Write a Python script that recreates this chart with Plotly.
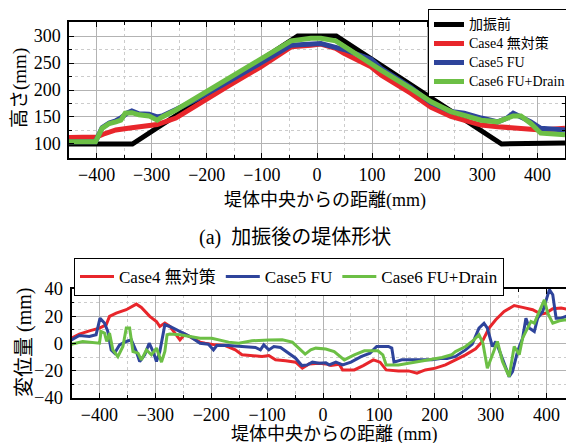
import plotly.graph_objects as go

SERIF = "Liberation Serif, Noto Sans CJK JP, serif"

# ---- top chart: embankment shape (mm) ----
before_x = [-450, -335, -35, 35, 335, 450]
before_y = [100, 100, 300, 300, 100, 102]

case4_x = [-450, -400, -388, -377, -365, -336, -323, -290, -256, -214, -160, -102, -47, -11, 7, 34, 49, 98, 116, 170, 207, 243, 267, 298, 328, 356, 388, 406, 450]
case4_y = [112, 113, 118, 122, 126, 130, 132, 136, 148, 175, 208, 243, 280, 283, 285, 277, 268, 243, 228, 194, 168, 151, 144, 135, 132, 130, 127, 126, 129]

case5_x = [-450, -402, -390, -377, -365, -356, -345, -336, -323, -305, -290, -281, -256, -214, -160, -102, -47, 7, 34, 49, 98, 116, 170, 207, 243, 267, 298, 328, 345, 356, 370, 388, 406, 450]
case5_y = [104, 104, 130, 139, 143, 148, 157, 161, 156, 155, 150, 152, 164, 185, 216, 250, 283, 286, 280, 275, 257, 240, 205, 176, 160, 157, 148, 141, 148, 157, 150, 141, 129, 126]

case6_x = [-450, -402, -390, -377, -365, -356, -348, -336, -323, -305, -290, -281, -256, -214, -160, -102, -47, -11, 7, 34, 49, 98, 116, 170, 207, 243, 267, 298, 328, 345, 356, 370, 388, 406, 450]
case6_y = [104, 104, 129, 138, 141, 144, 157, 158, 154, 152, 144, 150, 163, 189, 222, 257, 291, 296, 296, 291, 281, 249, 237, 203, 178, 160, 152, 144, 141, 147, 152, 152, 138, 120, 117]

# ---- bottom chart: displacement (mm) ----
d4_x = [-450, -436, -418, -400, -388, -382, -370, -352, -334, -325, -310, -298, -292, -283, -274, -262, -256, -247, -232, -220, -211, -193, -175, -157, -145, -127, -109, -97, -85, -67, -49, -37, -25, -7, 5, 14, 29, 35, 56, 72, 90, 102, 113, 135, 153, 168, 183, 201, 219, 237, 255, 273, 285, 297, 309, 324, 342, 357, 375, 390, 399, 411, 426, 442, 450]
d4_y = [3.9, 6.9, 9.3, 11.3, 13.7, 19.9, 22.3, 24.8, 28.9, 26.5, 19.9, 16.2, 12.5, 15.0, 12.5, 6.4, 2.7, 6.9, 3.4, 1.0, 0.2, -1.0, -1.5, -4.7, -8.3, -8.8, -9.6, -8.8, -12.0, -12.7, -13.7, -18.1, -15.0, -14.5, -15.0, -16.2, -15.2, -19.4, -19.4, -16.2, -12.0, -13.7, -19.4, -20.1, -20.1, -21.8, -19.4, -18.1, -15.7, -12.0, -8.3, -3.9, 1.5, 11.3, 17.4, 23.5, 27.9, 26.5, 24.8, 21.6, 22.3, 25.5, 26.0, 24.8, 23.5]

d5_x = [-450, -436, -418, -406, -399, -391, -385, -379, -373, -364, -352, -343, -334, -328, -319, -311, -304, -298, -292, -283, -274, -256, -238, -220, -205, -196, -190, -169, -145, -121, -112, -106, -97, -88, -76, -58, -49, -38, -28, -19, -7, 5, 11, 23, 35, 50, 68, 84, 96, 117, 123, 127, 141, 159, 177, 195, 213, 222, 237, 255, 267, 279, 288, 294, 303, 309, 315, 324, 333, 339, 348, 357, 363, 369, 378, 384, 393, 405, 411, 417, 426, 442, 450]
d5_y = [2.7, 5.9, 5.1, 6.4, 18.6, 15.0, 8.8, -4.7, -7.1, -1.0, 1.5, 2.7, -5.9, -13.2, -8.3, 0.2, -5.9, -13.2, -5.9, 13.7, 12.5, 8.8, 5.1, 0.2, -0.5, -4.7, -1.5, -1.5, -2.2, -2.9, -4.7, -1.0, -4.7, -2.2, -2.9, -8.3, -10.8, -16.2, -15.7, -13.7, -14.5, -14.2, -15.7, -13.7, -15.7, -13.7, -9.6, -7.1, -2.2, -2.2, -3.4, -13.7, -12.0, -12.0, -12.0, -12.0, -10.8, -11.0, -9.5, -4.7, -0.5, 11.3, 14.9, 11.3, -2.2, 1.5, -4.7, -14.5, -24.3, -20.6, -5.9, 3.9, 18.6, 11.3, 8.8, 18.6, 23.5, 39.5, 35.8, 18.6, 18.6, 21.0, 23.0]

d6_x = [-450, -430, -400, -397, -391, -387, -382, -376, -367, -358, -352, -346, -340, -331, -325, -316, -307, -298, -289, -283, -279, -274, -256, -238, -220, -199, -169, -151, -127, -97, -73, -55, -43, -32, -22, -13, 5, 20, 38, 56, 74, 98, 107, 113, 135, 153, 171, 195, 213, 230, 237, 255, 270, 279, 286, 294, 303, 312, 321, 333, 342, 351, 357, 366, 372, 378, 387, 396, 402, 411, 423, 435, 450]
d6_y = [-0.5, 1.5, 0.2, 8.8, 7.6, 1.5, 7.6, -4.7, -9.6, -2.2, 11.3, 11.3, -5.9, -7.1, -12.0, -4.7, -8.3, -3.4, -13.7, -5.9, 6.4, 6.9, 6.4, 5.1, 3.9, 3.9, 1.0, 0.2, 2.0, 2.5, 2.7, 1.0, -3.4, -7.8, -4.7, -3.4, -4.0, -5.9, -12.0, -8.3, -5.4, -5.4, -8.3, -15.7, -15.7, -14.5, -13.2, -11.3, -10.3, -8.3, -5.9, -2.2, 2.7, 6.4, 0.2, -18.1, -8.3, 1.5, -13.2, -24.3, -2.2, -8.3, 3.9, 11.3, 16.2, 14.9, 23.5, 32.1, 22.3, 14.9, 16.7, 17.4, 12.5]

RED = "#e8262b"
BLUE = "#2e449b"
GREEN = "#6cbf45"

# top legend text rendered a little larger than the legend's row spacing font
def tl(s):
    return "<span style='font-size:14px'>" + s + "</span>"

fig = go.Figure()
fig.add_trace(go.Scatter(x=before_x, y=before_y, name=tl("加振前"), mode="lines",
                         line=dict(color="black", width=5), xaxis="x", yaxis="y", legend="legend"))
fig.add_trace(go.Scatter(x=case4_x, y=case4_y, name=tl("Case4 無対策"), mode="lines",
                         line=dict(color=RED, width=5), xaxis="x", yaxis="y", legend="legend"))
fig.add_trace(go.Scatter(x=case5_x, y=case5_y, name=tl("Case5 FU"), mode="lines",
                         line=dict(color=BLUE, width=5), xaxis="x", yaxis="y", legend="legend"))
fig.add_trace(go.Scatter(x=case6_x, y=case6_y, name=tl("Case6 FU+Drain"), mode="lines",
                         line=dict(color=GREEN, width=5), xaxis="x", yaxis="y", legend="legend"))

fig.add_trace(go.Scatter(x=d4_x, y=d4_y, name="Case4 無対策", mode="lines",
                         line=dict(color=RED, width=3), xaxis="x2", yaxis="y2", legend="legend2"))
fig.add_trace(go.Scatter(x=d5_x, y=d5_y, name="Case5 FU", mode="lines",
                         line=dict(color=BLUE, width=3), xaxis="x2", yaxis="y2", legend="legend2"))
fig.add_trace(go.Scatter(x=d6_x, y=d6_y, name="Case6 FU+Drain", mode="lines",
                         line=dict(color=GREEN, width=3), xaxis="x2", yaxis="y2", legend="legend2"))

# page body has an 8px margin: figure is offset by (8, 8) in the window
OFF = 8
W, H = 574 - OFF, 443 - OFF

def PX(px):
    return (px - OFF) / W

def PY(py):
    return 1 - (py - OFF) / H

def axis_common(fs):
    return dict(ticks="inside", ticklen=5, tickwidth=1.2, tickcolor="black",
                showline=True, linecolor="black", linewidth=1.5, mirror="ticks",
                showgrid=True, gridcolor="#b3b3b3", gridwidth=1.2, zeroline=False,
                automargin=False,
                tickfont=dict(family=SERIF, size=fs, color="black"))

minor_x = dict(dtick=50, tick0=0, ticks="inside", ticklen=3, tickcolor="black",
               showgrid=True, gridcolor="#cccccc", griddash="dot", gridwidth=1)

xa = axis_common(18)
xa.update(domain=[PX(69), PX(565)], range=[-450, 450], dtick=100, tick0=0, anchor="y",
          minor=minor_x)
ya = axis_common(18)
ya.update(domain=[PY(158), PY(22)], range=[74, 326], dtick=50, tick0=0, anchor="x",
          ticklabelstandoff=3,
          minor=dict(dtick=25, tick0=0, ticks="inside", ticklen=3, tickcolor="black",
                     showgrid=True, gridcolor="#cccccc", griddash="dot", gridwidth=1))
xa2 = axis_common(18)
xa2.update(domain=[PX(71.5), 1.0], range=[-450, 449], dtick=100, tick0=0, anchor="y2",
           minor=minor_x)
ya2 = axis_common(18.5)
ya2.update(domain=[PY(398), PY(289)], range=[-40, 40], dtick=20, tick0=0, anchor="x2",
           ticklabelstandoff=3,
           minor=dict(dtick=10, tick0=0, ticks="inside", ticklen=3, tickcolor="black",
                      showgrid=True, gridcolor="#cccccc", griddash="dot", gridwidth=1))

annotations = [
    dict(text="高さ(mm)", x=PX(20), y=PY(88), textangle=-90, font=dict(family=SERIF, size=19)),
    dict(text="堤体中央からの距離(mm)", x=PX(325), y=PY(200), font=dict(family=SERIF, size=18)),
    dict(text="(a)\u00a0\u00a0加振後の堤体形状", x=PX(295), y=PY(237), font=dict(family=SERIF, size=20)),
    dict(text="変位量 (mm)", x=PX(24), y=PY(343), textangle=-90, font=dict(family=SERIF, size=20)),
    dict(text="堤体中央からの距離 (mm)", x=PX(334), y=PY(434), font=dict(family=SERIF, size=18)),
]
for a in annotations:
    a.update(xref="paper", yref="paper", showarrow=False, xanchor="center", yanchor="middle")

fig.update_layout(
    width=W, height=H, margin=dict(l=0, r=0, t=0, b=0, autoexpand=False),
    paper_bgcolor="white", plot_bgcolor="white",
    font=dict(family=SERIF, color="black"),
    xaxis=xa, yaxis=ya, xaxis2=xa2, yaxis2=ya2,
    annotations=annotations,
    legend=dict(x=PX(428), y=PY(9), xanchor="left", yanchor="top",
                bgcolor="white", bordercolor="black", borderwidth=1,
                font=dict(family=SERIF, size=12, color="black"),
                tracegroupgap=0, itemwidth=30),
    legend2=dict(x=PX(74), y=PY(258), xanchor="left", yanchor="top", orientation="h",
                 bgcolor="white", bordercolor="black", borderwidth=1,
                 font=dict(family=SERIF, size=17, color="black"),
                 tracegroupgap=0, itemwidth=34),
    showlegend=True,
)

fig.write_html("out.html")
